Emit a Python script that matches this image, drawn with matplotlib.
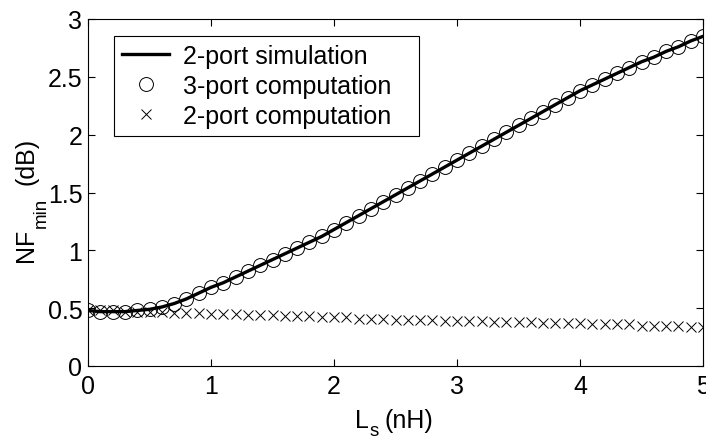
import matplotlib
matplotlib.use("Agg")
import matplotlib.pyplot as plt
from matplotlib.patches import Rectangle
from matplotlib.transforms import IdentityTransform

# Source inductance sweep (nH)
ls_nh = [0.0, 0.1, 0.2, 0.3, 0.4, 0.5, 0.6, 0.7, 0.8, 0.9,
         1.0, 1.1, 1.2, 1.3, 1.4, 1.5, 1.6, 1.7, 1.8, 1.9,
         2.0, 2.1, 2.2, 2.3, 2.4, 2.5, 2.6, 2.7, 2.8, 2.9,
         3.0, 3.1, 3.2, 3.3, 3.4, 3.5, 3.6, 3.7, 3.8, 3.9,
         4.0, 4.1, 4.2, 4.3, 4.4, 4.5, 4.6, 4.7, 4.8, 4.9, 5.0]

# NFmin (dB) from the 2-port simulation
nf_sim = [0.48, 0.47, 0.47, 0.47, 0.48, 0.49, 0.51, 0.54, 0.58, 0.63,
          0.68, 0.72, 0.77, 0.82, 0.87, 0.92, 0.97, 1.02, 1.07, 1.12,
          1.18, 1.24, 1.30, 1.36, 1.42, 1.48, 1.54, 1.60, 1.66, 1.72,
          1.78, 1.84, 1.90, 1.96, 2.02, 2.08, 2.14, 2.20, 2.26, 2.32,
          2.38, 2.43, 2.48, 2.53, 2.58, 2.63, 2.67, 2.72, 2.76, 2.81, 2.85]

# NFmin (dB) from the 3-port computation
nf_3port = [0.48, 0.47, 0.47, 0.47, 0.48, 0.49, 0.51, 0.54, 0.58, 0.63,
            0.68, 0.72, 0.77, 0.82, 0.87, 0.92, 0.97, 1.02, 1.07, 1.12,
            1.18, 1.24, 1.30, 1.36, 1.42, 1.48, 1.54, 1.60, 1.66, 1.72,
            1.78, 1.84, 1.90, 1.96, 2.02, 2.08, 2.14, 2.20, 2.26, 2.32,
            2.38, 2.43, 2.48, 2.53, 2.58, 2.63, 2.67, 2.72, 2.76, 2.81, 2.85]

# NFmin (dB) from the 2-port computation
nf_2port = [0.48, 0.48, 0.48, 0.47, 0.47, 0.47, 0.47, 0.46, 0.46, 0.46,
            0.45, 0.45, 0.45, 0.44, 0.44, 0.44, 0.43, 0.43, 0.43, 0.42,
            0.42, 0.42, 0.41, 0.41, 0.41, 0.40, 0.40, 0.40, 0.40, 0.39,
            0.39, 0.39, 0.39, 0.38, 0.38, 0.38, 0.38, 0.37, 0.37, 0.37,
            0.37, 0.36, 0.36, 0.36, 0.36, 0.35, 0.35, 0.35, 0.35, 0.34, 0.34]

series_labels = ["2-port simulation", "3-port computation", "2-port computation"]
x_ticks = [0, 1, 2, 3, 4, 5]
y_ticks = [0, 0.5, 1, 1.5, 2, 2.5, 3]
y_tick_labels = ["0", "0.5", "1", "1.5", "2", "2.5", "3"]

plt.rcParams["font.family"] = ["Liberation Sans", "DejaVu Sans"]

W, H = 706, 439
fig = plt.figure(figsize=(W / 100, H / 100), dpi=100)
ax = fig.add_axes([88 / W, 1 - 367 / H, 615 / W, 347 / H])

ax.plot(ls_nh, nf_sim, color="black", lw=2.4, label=series_labels[0], zorder=3)
ax.plot(ls_nh, nf_3port, ls="none", marker="o", ms=10, mfc="none",
        mec="black", mew=0.7, label=series_labels[1], zorder=4)
ax.plot(ls_nh, nf_2port, ls="none", marker="x", ms=6.5, mec="black",
        mew=0.7, label=series_labels[2], zorder=4)

ax.set_xlim(0, 5)
ax.set_ylim(0, 3)
ax.set_xticks(x_ticks)
ax.set_yticks(y_ticks)
ax.set_yticklabels(y_tick_labels)
ax.tick_params(direction="in", length=5, width=0.8, top=True, right=True,
               labelsize=18)
ax.tick_params(axis="x", pad=6)
ax.tick_params(axis="y", pad=4)
for s in ax.spines.values():
    s.set_linewidth(0.8)

leg = ax.legend(loc="upper left", bbox_to_anchor=(0.043, 0.951), fontsize=18,
                frameon=False, handlelength=1.9, handletextpad=0.55,
                borderpad=0.3, labelspacing=0.25, borderaxespad=0)
leg.set_zorder(6)

renderer = fig.canvas.get_renderer()
px = IdentityTransform()

# legend box with extra room on the right, MATLAB-style
fig.canvas.draw()
lb = leg.get_window_extent(renderer)
ax.add_patch(Rectangle((lb.x0, lb.y0), lb.width + 20, lb.height,
                       transform=px, facecolor="white", edgecolor="black",
                       linewidth=0.8, zorder=5, clip_on=False))

main_fs, sub_fs = 18, 13.5

# x label: L_s (nH)
tx = fig.text(355, 11, "L", fontsize=main_fs, transform=px,
              ha="left", va="baseline")
x1 = tx.get_window_extent(renderer).x1
ts = fig.text(x1 + 1, 3, "s", fontsize=sub_fs, transform=px,
              ha="left", va="baseline")
x2 = ts.get_window_extent(renderer).x1
fig.text(x2 + 5, 11, "(nH)", fontsize=main_fs, transform=px,
         ha="left", va="baseline")

# y label: NF_min (dB), rotated
ty = fig.text(33, 177, "NF", fontsize=main_fs, transform=px, rotation=90,
              rotation_mode="anchor", ha="left", va="baseline")
y1 = ty.get_window_extent(renderer).y1
tm = fig.text(46, y1 + 1, "min", fontsize=sub_fs, transform=px, rotation=90,
              rotation_mode="anchor", ha="left", va="baseline")
y2 = tm.get_window_extent(renderer).y1
fig.text(33, y2 + 12, "(dB)", fontsize=main_fs, transform=px, rotation=90,
         rotation_mode="anchor", ha="left", va="baseline")

fig.savefig("out.png", dpi=100)
